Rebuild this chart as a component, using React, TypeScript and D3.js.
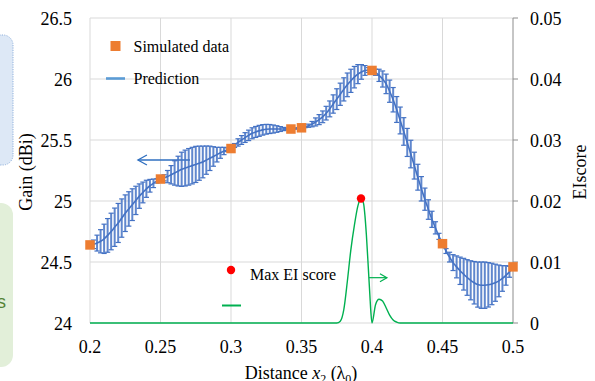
import React from 'react';
import * as d3 from 'd3';

const X_TICKS = [0.2, 0.25, 0.3, 0.35, 0.4, 0.45, 0.5];
const X_TICK_LABELS = ['0.2', '0.25', '0.3', '0.35', '0.4', '0.45', '0.5'];
const GAIN_TICKS = [24, 24.5, 25, 25.5, 26, 26.5];
const GAIN_TICK_LABELS = ['24', '24.5', '25', '25.5', '26', '26.5'];
const EI_TICKS = [0, 0.01, 0.02, 0.03, 0.04, 0.05];
const EI_TICK_LABELS = ['0', '0.01', '0.02', '0.03', '0.04', '0.05'];

// Simulated data (orange squares)
const SIM_X = [0.2, 0.25, 0.3, 0.3425, 0.35, 0.4, 0.45, 0.5];
const SIM_GAIN = [24.64, 25.18, 25.43, 25.59, 25.6, 26.07, 24.65, 24.46];

// GP prediction sampled every 0.0025 from 0.2 to 0.5
const PRED_X0 = 0.2;
const PRED_DX = 0.0025;
const PRED_MEAN = [
  24.64, 24.645, 24.655, 24.67, 24.69, 24.718, 24.75, 24.785, 24.82, 24.86,
  24.9, 24.935, 24.97, 25.005, 25.04, 25.07, 25.1, 25.125, 25.145, 25.165,
  25.18,
  25.19, 25.2, 25.215, 25.23, 25.245, 25.26, 25.27, 25.28, 25.29, 25.3,
  25.31, 25.32, 25.335, 25.35, 25.365, 25.38, 25.395, 25.41, 25.42, 25.43,
  25.455, 25.48, 25.5, 25.52, 25.538, 25.555, 25.566, 25.575, 25.583, 25.588,
  25.59, 25.59, 25.59, 25.59, 25.59, 25.59, 25.59,
  25.593, 25.597, 25.6,
  25.607, 25.617, 25.63, 25.648, 25.667, 25.69, 25.72, 25.755, 25.795, 25.835,
  25.875, 25.915, 25.952, 25.985, 26.015, 26.04, 26.058, 26.07, 26.073, 26.07,
  26.055, 26.03, 26.0, 25.96, 25.9, 25.83, 25.75, 25.66, 25.57, 25.48,
  25.385, 25.29, 25.195, 25.1, 25.015, 24.93, 24.85, 24.78, 24.71, 24.65,
  24.59, 24.54, 24.495, 24.46, 24.428, 24.4, 24.373, 24.35, 24.33, 24.315,
  24.31, 24.31, 24.313, 24.32, 24.33, 24.345, 24.365, 24.39, 24.42, 24.46,
];
const PRED_ERR = [
  0, 0.035, 0.065, 0.095, 0.12, 0.138, 0.15, 0.157, 0.16, 0.157,
  0.15, 0.141, 0.13, 0.116, 0.1, 0.085, 0.07, 0.052, 0.035, 0.018,
  0,
  0.025, 0.05, 0.075, 0.1, 0.122, 0.14, 0.147, 0.15, 0.15, 0.148,
  0.14, 0.13, 0.116, 0.1, 0.08, 0.06, 0.045, 0.03, 0.015, 0,
  0.016, 0.03, 0.036, 0.04, 0.043, 0.045, 0.045, 0.045, 0.043, 0.04,
  0.037, 0.033, 0.027, 0.02, 0.013, 0.006, 0,
  0.004, 0.004, 0,
  0.006, 0.013, 0.022, 0.033, 0.041, 0.048, 0.056, 0.065, 0.075, 0.085,
  0.091, 0.095, 0.097, 0.095, 0.088, 0.078, 0.06, 0.04, 0.02, 0,
  0.025, 0.05, 0.066, 0.08, 0.091, 0.1, 0.106, 0.11, 0.113, 0.115,
  0.113, 0.11, 0.106, 0.1, 0.091, 0.08, 0.066, 0.05, 0.025, 0,
  0.02, 0.04, 0.065, 0.09, 0.112, 0.13, 0.146, 0.16, 0.174, 0.185,
  0.19, 0.19, 0.182, 0.17, 0.152, 0.13, 0.105, 0.08, 0.045, 0,
];

// EI score
const EI_X = [0.2, 0.37, 0.375, 0.3775, 0.38, 0.3825, 0.385, 0.3875, 0.39, 0.3922, 0.394, 0.395, 0.396, 0.3974, 0.3985, 0.3992, 0.4, 0.4025, 0.405, 0.4075, 0.41, 0.4125, 0.415, 0.4175, 0.42, 0.43, 0.5];
const EI_VAL = [0, 0, 0, 0.0003, 0.0022, 0.0068, 0.012, 0.016, 0.0192, 0.0204, 0.0196, 0.0176, 0.0145, 0.009, 0.0045, 0.0018, 0, 0.003, 0.0039, 0.0036, 0.0025, 0.0013, 0.0005, 0.00015, 0, 0, 0];
const MAX_EI_X = 0.3922;
const MAX_EI_VAL = 0.0204;

const W = 595;
const H = 381;
const SERIF = "'Liberation Serif', 'Times New Roman', Times, 'DejaVu Serif', serif";
const SANS = "'Liberation Sans', Arial, sans-serif";
const BLUE = '#4472c4';
const ORANGE = '#ed7d31';
const GREEN = '#00b050';
const GRID = '#d9d9d9';

const T = (props: any) => <text {...props} style={{ fontFamily: SERIF }} />;

export default function App() {
  const x = d3.scaleLinear().domain([0.2, 0.5]).range([90, 513]);
  const yL = d3.scaleLinear().domain([24, 26.5]).range([323, 18]);
  const yR = d3.scaleLinear().domain([0, 0.05]).range([323, 18]);

  const pred = PRED_MEAN.map((m, i) => ({ x: PRED_X0 + i * PRED_DX, m, e: PRED_ERR[i] }));
  const meanLine = d3.line<any>().x((d) => x(d.x)).y((d) => yL(d.m)).curve(d3.curveMonotoneX)(pred) || '';
  const eiData = EI_X.map((v, i) => ({ x: v, y: EI_VAL[i] }));
  const eiLine = d3.line<any>().x((d) => x(d.x)).y((d) => yR(d.y)).curve(d3.curveMonotoneX)(eiData) || '';

  // Annotation arrows (data coordinates)
  const bA = { x1: 0.2709, x2: 0.234, y: 25.336 };
  const gA = { x1: 0.3979, x2: 0.4106, y: 0.00743 };

  const cap = 2.6;
  const mk = 9.5;

  return (
    <svg width={W} height={H} style={{ position: 'absolute', left: 0, top: 0, background: '#fff', fontFamily: SERIF }}>
      <rect x={0} y={0} width={W} height={H} fill="#fff" />
      {/* side boxes */}
      <rect x={-25} y={35} width={38} height={130} rx={10} fill="#dde8f6" stroke="#8fb0dc" strokeWidth={1} strokeDasharray="1.2,1.2" />
      <rect x={-25} y={203} width={38} height={164} rx={12} fill="#e2efd9" />
      <text x={6} y={308} textAnchor="end" style={{ fontFamily: SANS }} fontSize={18} fill="#548235">s</text>

      {/* gridlines */}
      {GAIN_TICKS.map((t) => (
        <line key={'h' + t} x1={x(0.2)} x2={x(0.5)} y1={yL(t)} y2={yL(t)} stroke={GRID} strokeWidth={1} />
      ))}
      {X_TICKS.slice(0, -1).map((t) => (
        <line key={'v' + t} x1={x(t)} x2={x(t)} y1={yL(26.5)} y2={yL(24)} stroke={GRID} strokeWidth={1} />
      ))}
      {/* right axis */}
      <line x1={x(0.5)} x2={x(0.5)} y1={yR(0.05)} y2={yR(0)} stroke="#8c8c8c" strokeWidth={1} />
      {EI_TICKS.map((t) => (
        <line key={'rt' + t} x1={x(0.5)} x2={x(0.5) + 5} y1={yR(t)} y2={yR(t)} stroke="#8c8c8c" strokeWidth={1} />
      ))}

      {/* blue arrow */}
      <g stroke="#2f6fc0" strokeWidth={1.3} fill="none">
        <line x1={x(bA.x1)} x2={x(bA.x2)} y1={yL(bA.y)} y2={yL(bA.y)} />
        <polyline points={`${x(bA.x2) + 9},${yL(bA.y) - 5} ${x(bA.x2)},${yL(bA.y)} ${x(bA.x2) + 9},${yL(bA.y) + 5}`} />
      </g>

      {/* error bars */}
      <g stroke={BLUE}>
        {pred.filter((d) => d.e > 0).map((d, i) => {
          const px = x(d.x);
          const yt = yL(d.m + d.e);
          const yb = yL(d.m - d.e);
          return (
            <g key={'eb' + i}>
              <line x1={px} x2={px} y1={yt} y2={yb} strokeWidth={2} strokeOpacity={0.85} />
              <line x1={px - cap} x2={px + cap} y1={yt} y2={yt} strokeWidth={1.2} />
              <line x1={px - cap} x2={px + cap} y1={yb} y2={yb} strokeWidth={1.2} />
            </g>
          );
        })}
      </g>
      <path d={meanLine} fill="none" stroke={BLUE} strokeWidth={1.6} />

      {/* EI curve */}
      <path d={eiLine} fill="none" stroke={GREEN} strokeWidth={1.4} />
      <circle cx={x(MAX_EI_X)} cy={yR(MAX_EI_VAL)} r={4.2} fill="#ff0000" />

      {/* green arrow */}
      <g stroke={GREEN} strokeWidth={1.2} fill="none">
        <line x1={x(gA.x1)} x2={x(gA.x2)} y1={yR(gA.y)} y2={yR(gA.y)} />
        <polyline points={`${x(gA.x2) - 7},${yR(gA.y) - 4} ${x(gA.x2)},${yR(gA.y)} ${x(gA.x2) - 7},${yR(gA.y) + 4}`} />
      </g>

      {/* simulated data */}
      {SIM_X.map((v, i) => (
        <rect key={'s' + i} x={x(v) - mk / 2} y={yL(SIM_GAIN[i]) - mk / 2} width={mk} height={mk} fill={ORANGE} />
      ))}

      {/* left ticks */}
      {GAIN_TICKS.map((t, i) => (
        <T key={'lt' + t} x={72} y={yL(t) + 6.5} textAnchor="end" fontSize={18} fill="#000">{GAIN_TICK_LABELS[i]}</T>
      ))}
      {EI_TICKS.map((t, i) => (
        <T key={'rl' + t} x={530} y={yR(t) + 6.5} textAnchor="start" fontSize={18} fill="#000">{EI_TICK_LABELS[i]}</T>
      ))}
      {X_TICKS.map((t, i) => (
        <T key={'xl' + t} x={x(t)} y={353} textAnchor="middle" fontSize={18} fill="#000">{X_TICK_LABELS[i]}</T>
      ))}

      {/* axis titles */}
      <T transform="translate(32,172) rotate(-90)" textAnchor="middle" fontSize={18} fill="#000">Gain (dBi)</T>
      <T transform="translate(586,172) rotate(-90)" textAnchor="middle" fontSize={18} fill="#000">EIscore</T>
      <T x={301} y={379} textAnchor="middle" fontSize={18} fill="#000">
        Distance <tspan fontStyle="italic">x</tspan><tspan dy={4} fontSize={12}>2</tspan><tspan dy={-4}> (λ</tspan><tspan dy={4} fontSize={12}>0</tspan><tspan dy={-4}>)</tspan>
      </T>

      {/* legend */}
      <rect x={110.5} y={41} width={10} height={10} fill={ORANGE} />
      <T x={133.5} y={51.5} fontSize={16} fill="#000">Simulated data</T>
      <line x1={106} x2={125} y1={78.5} y2={78.5} stroke="#5b9bd5" strokeWidth={2.6} />
      <T x={133.5} y={83.5} fontSize={16} fill="#000">Prediction</T>

      <circle cx={231} cy={270} r={4.2} fill="#ff0000" />
      <T x={250} y={279.5} fontSize={16} fill="#000">Max EI score</T>
      <line x1={222} x2={241} y1={305.5} y2={305.5} stroke={GREEN} strokeWidth={2} />
    </svg>
  );
}
